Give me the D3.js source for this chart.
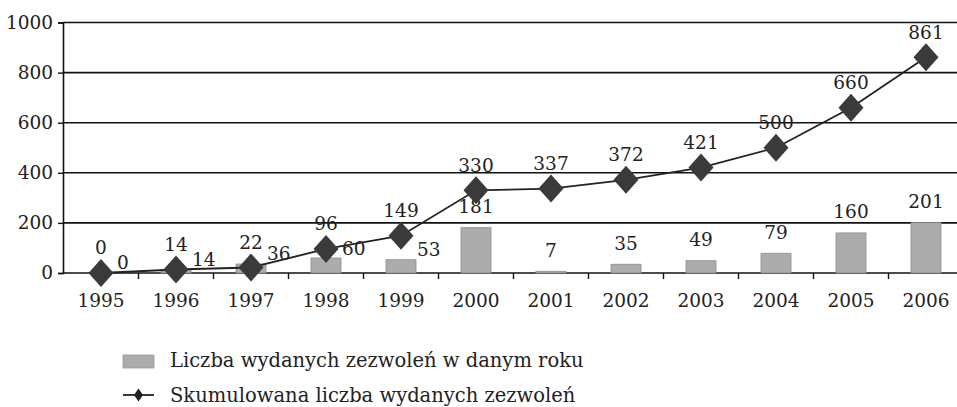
<!DOCTYPE html>
<html lang="pl">
<head>
    <meta charset="UTF-8">
    <title>Zezwolenia</title>
    <style>
        body {
            margin: 0;
            background: #fff;
        }
    </style>
</head>
<body>

<div id="chart"></div>

<script src="https://d3js.org/d3.v7.min.js"></script>
<script>
    // values
    const years = ["1995", "1996", "1997", "1998", "1999", "2000", "2001", "2002", "2003", "2004", "2005", "2006"];
    const issued = [0, 14, 36, 60, 53, 181, 7, 35, 49, 79, 160, 201];
    const cumulative = [0, 14, 22, 96, 149, 330, 337, 372, 421, 500, 660, 861];
    const yTicks = [0, 200, 400, 600, 800, 1000];
    const legendLabels = ["Liczba wydanych zezwoleń w danym roku", "Skumulowana liczba wydanych zezwoleń"];

    const width = 957;
    const height = 407;
    const fontSize = 18.5;
    const serif = "'DejaVu Serif', serif";

    const svg = d3.select("#chart")
        .append("svg")
        .attr("width", width)
        .attr("height", height)
        .attr("font-family", serif);

    const x = d3.scaleBand()
        .domain(years)
        .range([63.5, 963.5])
        .paddingInner(0.6)
        .paddingOuter(0.3);

    const y = d3.scaleLinear()
        .domain([0, 1000])
        .range([273, 22.5]);

    const cx = d => x(d) + x.bandwidth() / 2;

    // gridlines
    svg.append("g")
        .selectAll("line")
        .data(yTicks)
        .enter()
        .append("line")
        .attr("x1", 63)
        .attr("x2", width)
        .attr("y1", d => y(d))
        .attr("y2", d => y(d))
        .attr("stroke", "#111")
        .attr("stroke-width", 1.6);

    // y axis
    const yAxis = svg.append("g")
        .attr("transform", "translate(63,0)")
        .call(d3.axisLeft(y).tickValues(yTicks).tickSize(5).tickPadding(5).tickFormat(d3.format("d")));
    yAxis.attr("font-family", serif).attr("font-size", fontSize);
    yAxis.select(".domain").attr("stroke", "#111").attr("stroke-width", 1.6);
    yAxis.selectAll("line").attr("stroke", "#111").attr("stroke-width", 1.4);
    yAxis.selectAll("text").attr("fill", "#222");

    // x axis ticks between categories
    const step = x.step();
    const xAxis = svg.append("g")
        .attr("transform", "translate(0,273)");
    xAxis.selectAll("line")
        .data(years.slice(1))
        .enter()
        .append("line")
        .attr("x1", d => x(d) - x.paddingInner() * step / 2)
        .attr("x2", d => x(d) - x.paddingInner() * step / 2)
        .attr("y1", 0)
        .attr("y2", 6)
        .attr("stroke", "#111")
        .attr("stroke-width", 1.4);
    xAxis.selectAll("text")
        .data(years)
        .enter()
        .append("text")
        .attr("x", cx)
        .attr("y", 28)
        .attr("dy", "0.35em")
        .attr("text-anchor", "middle")
        .attr("font-size", fontSize)
        .attr("fill", "#222")
        .text(d => d);

    // bars
    svg.append("g")
        .selectAll("rect")
        .data(issued)
        .enter()
        .append("rect")
        .attr("x", (d, i) => x(years[i]))
        .attr("width", x.bandwidth())
        .attr("y", d => y(d))
        .attr("height", d => y(0) - y(d))
        .attr("fill", "#acacac")
        .attr("stroke", "#8d8d8d")
        .attr("stroke-width", 0.8);

    // bar labels - small bars get the label beside them
    svg.append("g")
        .selectAll("text")
        .data(issued)
        .enter()
        .append("text")
        .attr("x", (d, i) => i < 5 ? cx(years[i]) + 16 : cx(years[i]))
        .attr("y", (d, i) => i < 5 ? Math.max(y(d) - 10, 249) : y(d) - 21)
        .attr("dy", "0.35em")
        .attr("text-anchor", (d, i) => i < 5 ? "start" : "middle")
        .attr("font-size", fontSize)
        .attr("fill", "#222")
        .text(d => d);

    // cumulative line
    const line = d3.line()
        .x((d, i) => cx(years[i]))
        .y(d => y(d));

    svg.append("path")
        .datum(cumulative)
        .attr("d", line)
        .attr("fill", "none")
        .attr("stroke", "#222")
        .attr("stroke-width", 1.8);

    const diamond = (w, h) => `M0,${-h}L${w},0L0,${h}L${-w},0Z`;

    svg.append("g")
        .selectAll("path")
        .data(cumulative)
        .enter()
        .append("path")
        .attr("transform", (d, i) => `translate(${cx(years[i])},${y(d)})`)
        .attr("d", diamond(12.5, 14))
        .attr("fill", "#3a3a3a");

    svg.append("g")
        .selectAll("text")
        .data(cumulative)
        .enter()
        .append("text")
        .attr("x", (d, i) => cx(years[i]))
        .attr("y", d => y(d) - 25)
        .attr("dy", "0.35em")
        .attr("text-anchor", "middle")
        .attr("font-size", fontSize)
        .attr("fill", "#222")
        .text(d => d);

    // legend
    const legend = svg.append("g").attr("transform", "translate(123,0)");
    legend.append("rect")
        .attr("x", 0)
        .attr("y", 355)
        .attr("width", 31)
        .attr("height", 13)
        .attr("fill", "#acacac")
        .attr("stroke", "#999")
        .attr("stroke-width", 0.8);
    legend.append("line")
        .attr("x1", 0)
        .attr("x2", 31)
        .attr("y1", 395)
        .attr("y2", 395)
        .attr("stroke", "#222")
        .attr("stroke-width", 1.8);
    legend.append("path")
        .attr("transform", "translate(15.5,395)")
        .attr("d", diamond(4.5, 6.5))
        .attr("fill", "#222");
    legend.selectAll("text")
        .data(legendLabels)
        .enter()
        .append("text")
        .attr("x", 47)
        .attr("y", (d, i) => 360 + i * 35)
        .attr("dy", "0.35em")
        .attr("font-size", 19.5)
        .attr("fill", "#222")
        .text(d => d);
</script>

</body>
</html>
